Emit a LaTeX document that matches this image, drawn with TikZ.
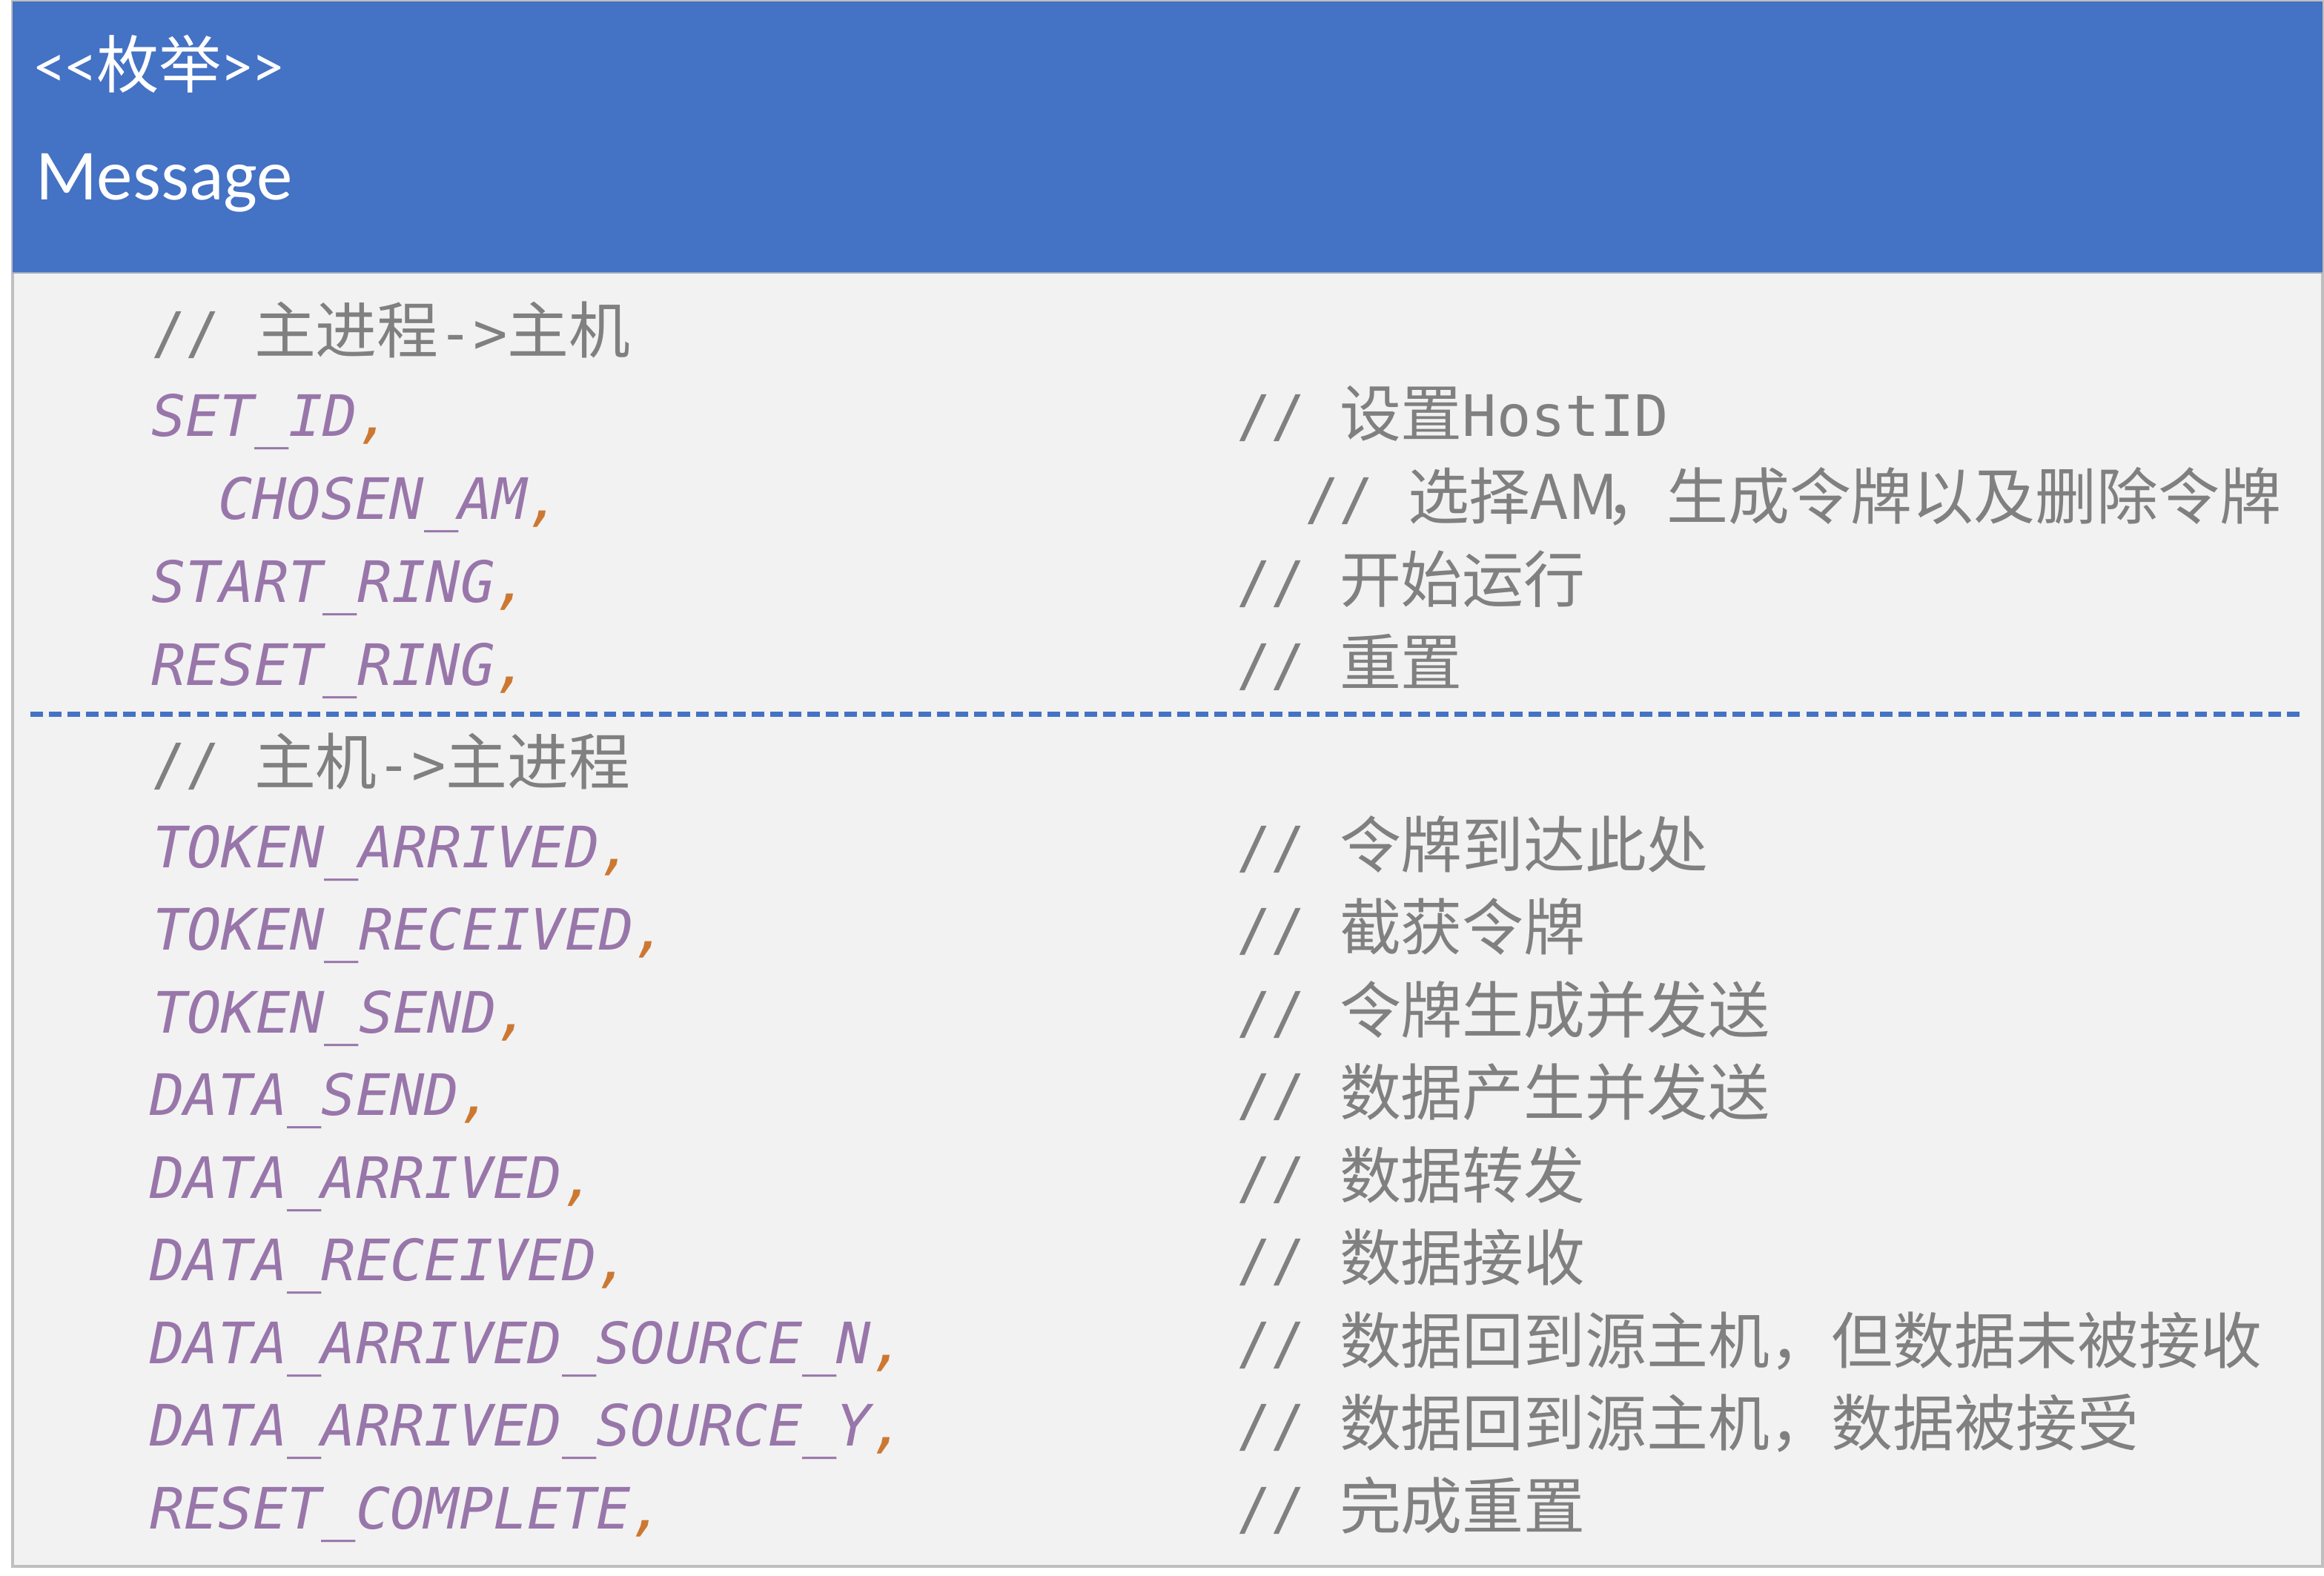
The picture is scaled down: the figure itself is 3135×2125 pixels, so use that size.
\documentclass[tikz,border=0pt]{standalone}
\usepackage{fontspec}
\setmainfont{Carlito}
\setmonofont{DejaVu Sans Mono}
\newfontfamily\cjk{Noto Sans CJK SC}
\usetikzlibrary{positioning}

\definecolor{headblue}{HTML}{4472C4}
\definecolor{bodygray}{HTML}{F2F2F2}
\definecolor{framegray}{HTML}{BFBFBF}
\definecolor{codepurple}{HTML}{9876AA}
\definecolor{commaorange}{HTML}{CC7832}
\definecolor{cmtgray}{HTML}{808080}

\newcommand\zh[1]{{\cjk\fontsize{23.6pt}{28pt}\selectfont #1}}
\newcommand\sep{\textcolor{commaorange}{,}}

\begin{document}
\begin{tikzpicture}[
    x=0.1mm, y=-0.1mm,
    every node/.style={anchor=base west, inner sep=0pt, outer sep=0pt},
    headtext/.style={text=white},
    codeline/.style={text=codepurple, font=\fontsize{21.9pt}{26pt}\selectfont\ttfamily\itshape},
    cmtline/.style={text=cmtgray, font=\fontsize{21.9pt}{26pt}\selectfont\ttfamily},
    divider/.style={draw=headblue, line width=2pt, dash pattern=on 4.8pt off 2.3pt}
]
\useasboundingbox (0,0) rectangle (3135,2125);
% frame and header
\draw[fill=bodygray, draw=framegray, line width=0.9pt] (17,2) rectangle (3133,2113);
\fill[headblue] (17,2) rectangle (3133,368);
\draw[draw=framegray!70!headblue, line width=0.6pt] (17,368) -- (3133,368);

\node[headtext, font=\fontsize{24pt}{28pt}\selectfont] (stereo) at (46,118) {<{}<{\cjk 枚举}>{}>};
\node[headtext, font=\fontsize{27.6pt}{33pt}\selectfont] (title) at (48,269) {Message};

% main process -> host
\node[cmtline] (grpa) at (204,476) {// \zh{主进程}->\zh{主机}};
\node[codeline] (setid) at (204,588) {SET\_ID\sep};
\node[cmtline] (setidc) at (1668,588) {// \zh{设置}HostID};
\node[codeline] (chosen) at (294,700) {CHOSEN\_AM\sep};
\node[cmtline] (chosenc) at (1760,700) {// \zh{选择AM\kern-5pt，生成令牌以及删除令牌}};
\node[codeline] (start) at (204,812) {START\_RING\sep};
\node[cmtline] (startc) at (1668,812) {// \zh{开始运行}};
\node[codeline] (reset) at (204,924) {RESET\_RING\sep};
\node[cmtline] (resetc) at (1668,924) {// \zh{重置}};

\coordinate (divl) at (41,963);
\coordinate (divr) at (3105,963);
\draw[divider] (divl) -- (divr);

% host -> main process
\node[cmtline] (grpb) at (204,1058) {// \zh{主机}->\zh{主进程}};
\node[codeline] (tokarr) at (206,1170) {TOKEN\_ARRIVED\sep};
\node[cmtline] (tokarrc) at (1668,1170) {// \zh{令牌到达此处}};
\node[codeline] (tokrec) at (206,1281.5) {TOKEN\_RECEIVED\sep};
\node[cmtline] (tokrecc) at (1668,1281.5) {// \zh{截获令牌}};
\node[codeline] (toksnd) at (206,1393) {TOKEN\_SEND\sep};
\node[cmtline] (toksndc) at (1668,1393) {// \zh{令牌生成并发送}};
\node[codeline] (datsnd) at (202,1504.5) {DATA\_SEND\sep};
\node[cmtline] (datsndc) at (1668,1504.5) {// \zh{数据产生并发送}};
\node[codeline] (datarr) at (202,1616) {DATA\_ARRIVED\sep};
\node[cmtline] (datarrc) at (1668,1616) {// \zh{数据转发}};
\node[codeline] (datrec) at (202,1727.5) {DATA\_RECEIVED\sep};
\node[cmtline] (datrecc) at (1668,1727.5) {// \zh{数据接收}};
\node[codeline] (srcn) at (202,1839) {DATA\_ARRIVED\_SOURCE\_N\sep};
\node[cmtline] (srcnc) at (1668,1839) {// \zh{数据回到源主机，但数据未被接收}};
\node[codeline] (srcy) at (202,1950.5) {DATA\_ARRIVED\_SOURCE\_Y\sep};
\node[cmtline] (srcyc) at (1668,1950.5) {// \zh{数据回到源主机，数据被接受}};
\node[codeline] (resdone) at (202,2062) {RESET\_COMPLETE\sep};
\node[cmtline] (resdonec) at (1668,2062) {// \zh{完成重置}};
\end{tikzpicture}
\end{document}
